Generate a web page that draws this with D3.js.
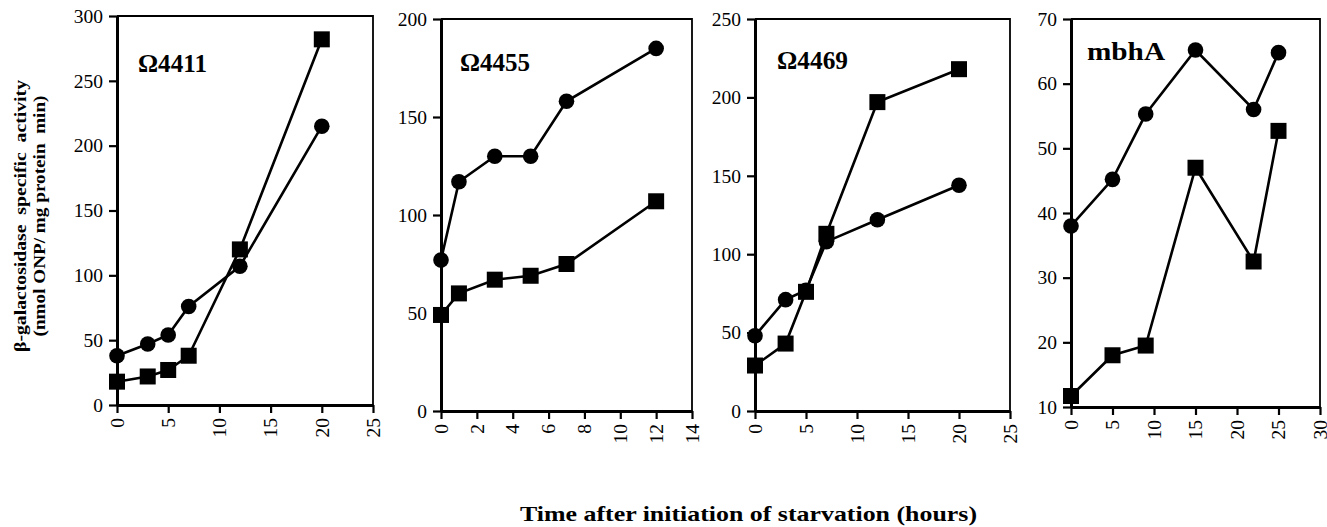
<!DOCTYPE html>
<html><head><meta charset="utf-8">
<script src="https://cdn.jsdelivr.net/npm/d3@7"></script>
<style>body{margin:0;background:#fff}svg{display:block}
.tk text{font-family:'Liberation Serif','Times New Roman',serif !important;font-size:19.5px !important;fill:#000}</style>
</head><body>
<svg id="c" width="1327" height="527"></svg>
<script>
// Panel definitions
const panelTitles = ["Ω4411", "Ω4455", "Ω4469", "mbhA"];
const xDomains = [[0,25],[0,14],[0,25],[0,30]];
const yDomains = [[0,300],[0,200],[0,250],[10,70]];
const xTicks = [[0,5,10,15,20,25],[0,2,4,6,8,10,12,14],[0,5,10,15,20,25],[0,5,10,15,20,25,30]];
const yTicks = [[0,50,100,150,200,250,300],[0,50,100,150,200],[0,50,100,150,200,250],[10,20,30,40,50,60,70]];

// Series (time in hours, activity)
const circles4411 = [[0,38],[3,47],[5,54],[7,76],[12,107],[20,215]];
const squares4411 = [[0,18],[3,22],[5,27],[7,38],[12,120],[20,282]];
const circles4455 = [[0,77],[1,117],[3,130],[5,130],[7,158],[12,185]];
const squares4455 = [[0,49],[1,60],[3,67],[5,69],[7,75],[12,107]];
const circles4469 = [[0,48],[3,71],[5,77],[7,108],[12,122],[20,144]];
const squares4469 = [[0,29],[3,43],[5,76],[7,113],[12,197],[20,218]];
const circlesMbhA = [[0,38],[5,45.2],[9,55.3],[15,65.2],[22,56],[25,64.8]];
const squaresMbhA = [[0,11.7],[5,18],[9,19.5],[15,47],[22,32.5],[25,52.7]];

const circleData = [circles4411, circles4455, circles4469, circlesMbhA];
const squareData = [squares4411, squares4455, squares4469, squaresMbhA];

const svg = d3.select("#c");
const boxes = [
  {x0:117, x1:373, y0:16, y1:405},
  {x0:441, x1:692, y0:19, y1:411},
  {x0:755, x1:1010, y0:19, y1:411},
  {x0:1071, x1:1320, y0:19, y1:407}
];
const titlePos = [[138,72,69],[460,71,70],[777,69,71],[1087,60,78]];
const serif = "'Liberation Serif','Times New Roman',serif";

boxes.forEach((b, i) => {
  const x = d3.scaleLinear().domain(xDomains[i]).range([b.x0, b.x1]);
  const y = d3.scaleLinear().domain(yDomains[i]).range([b.y1, b.y0]);
  const g = svg.append("g");
  // frame (top and right)
  g.append("path").attr("d", `M${b.x0},${b.y0}H${b.x1}V${b.y1}`)
    .attr("fill","none").attr("stroke","#000").attr("stroke-width",1.8);
  // axes
  const ya = g.append("g").attr("class","tk").attr("transform",`translate(${b.x0},0)`)
    .call(d3.axisLeft(y).tickValues(yTicks[i]).tickSize(8).tickSizeOuter(0).tickPadding(6).tickFormat(d3.format("d")));
  const xa = g.append("g").attr("class","tk").attr("transform",`translate(0,${b.y1})`)
    .call(d3.axisBottom(x).tickValues(xTicks[i]).tickSize(8).tickSizeOuter(0).tickFormat(d3.format("d")));
  [ya, xa].forEach(a => {
    a.attr("font-family", serif).attr("font-size", 19.5);
    a.select(".domain").attr("stroke-width",3);
    a.selectAll(".tick line").attr("stroke-width",2.2);
  });
  xa.selectAll("text").attr("transform","rotate(-90)").attr("text-anchor","end")
    .attr("x",-13).attr("y",0).attr("dy","0.32em");
  // lines
  const line = d3.line().x(d=>x(d[0])).y(d=>y(d[1]));
  g.append("path").datum(circleData[i]).attr("d",line).attr("fill","none").attr("stroke","#000").attr("stroke-width",2.6);
  g.append("path").datum(squareData[i]).attr("d",line).attr("fill","none").attr("stroke","#000").attr("stroke-width",2.6);
  g.selectAll(".ci").data(circleData[i]).join("circle").attr("cx",d=>x(d[0])).attr("cy",d=>y(d[1])).attr("r",7.8).attr("fill","#000");
  g.selectAll(".sq").data(squareData[i]).join("rect").attr("x",d=>x(d[0])-8).attr("y",d=>y(d[1])-8)
    .attr("width",16).attr("height",16).attr("fill","#000");
  // title
  g.append("text").attr("x",titlePos[i][0]).attr("y",titlePos[i][1]).text(panelTitles[i])
    .attr("font-family",serif).attr("font-weight","bold").attr("font-size",25).attr("fill","#000")
    .attr("textLength",titlePos[i][2]).attr("lengthAdjust","spacingAndGlyphs");
});

// y-axis label
const yl = svg.append("g").attr("transform","translate(0,216) rotate(-90)");
yl.append("text").attr("x",0).attr("y",26).attr("text-anchor","middle").attr("font-family",serif)
  .attr("font-weight","bold").attr("font-size",17).attr("xml:space","preserve")
  .attr("textLength",272).attr("lengthAdjust","spacingAndGlyphs").text("β-galactosidase  specific  activity");
yl.append("text").attr("x",0).attr("y",45).attr("text-anchor","middle").attr("font-family",serif)
  .attr("font-weight","bold").attr("font-size",17).attr("xml:space","preserve")
  .attr("textLength",241).attr("lengthAdjust","spacingAndGlyphs").text("(nmol ONP/ mg protein  min)");

// x-axis title
svg.append("text").attr("x",520).attr("y",521).attr("text-anchor","start").attr("font-family",serif)
  .attr("font-weight","bold").attr("font-size",21).attr("fill","#000")
  .attr("textLength",457).attr("lengthAdjust","spacingAndGlyphs")
  .text("Time after initiation of starvation (hours)");
</script>
</body></html>
